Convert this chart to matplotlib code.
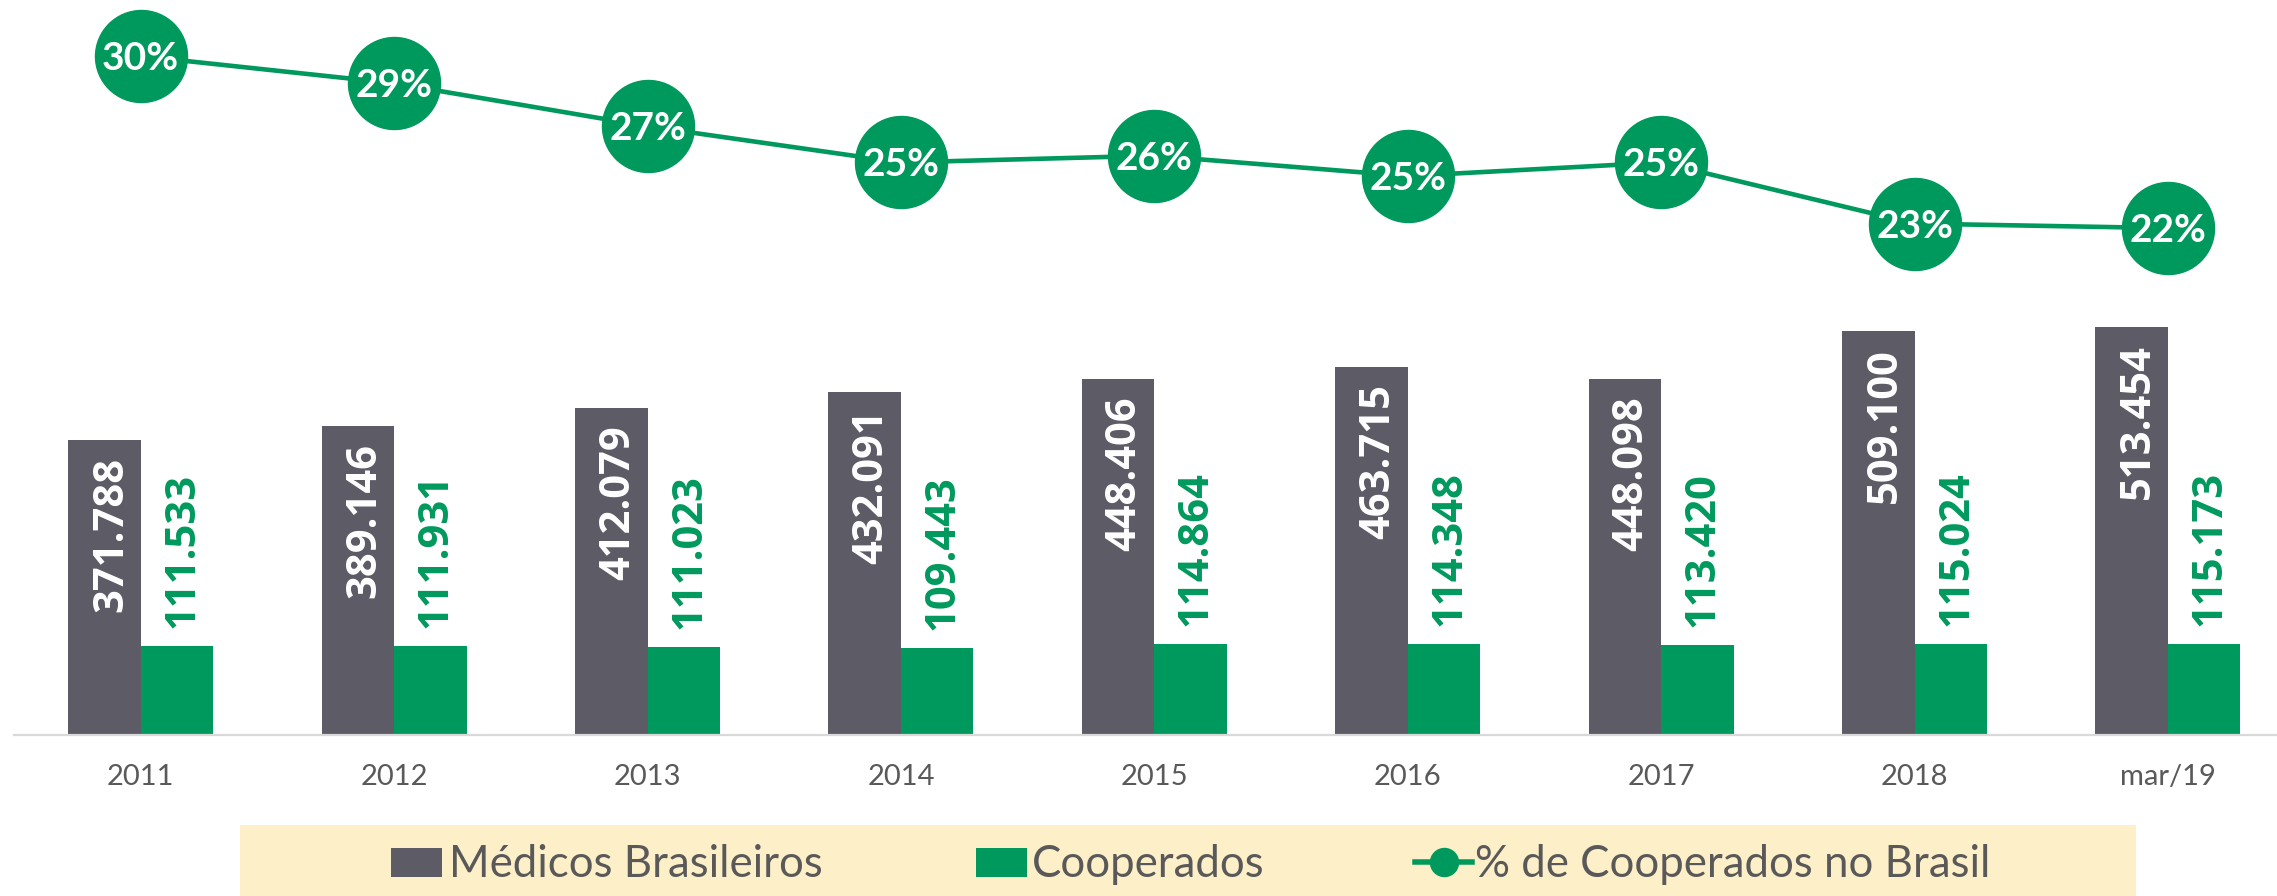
import matplotlib
matplotlib.use('Agg')
import matplotlib.pyplot as plt
import numpy as np
from matplotlib.patches import Rectangle
from matplotlib.lines import Line2D

# ---------------- data ----------------
categories = ['2011', '2012', '2013', '2014', '2015', '2016', '2017', '2018', 'mar/19']
medicos = [371788, 389146, 412079, 432091, 448406, 463715, 448098, 509100, 513454]
cooperados = [111533, 111931, 111023, 109443, 114864, 114348, 113420, 115024, 115173]
pct_cooperados = [0.300, 0.288, 0.269, 0.253, 0.256, 0.247, 0.253, 0.226, 0.224]
legend_labels = ['Médicos Brasileiros', 'Cooperados', '% de Cooperados no Brasil']

# ---------------- style ----------------
GRAY = '#5C5B66'
GREEN = '#00995D'
TEXT_GRAY = '#595959'
LEGEND_BG = '#FDEFC8'
AXIS_LINE = '#D9D9D9'

W, H, DPI = 2277, 896, 100
fig = plt.figure(figsize=(W / DPI, H / DPI), dpi=DPI)

def px2pt(v):
    return v * 72.0 / DPI

# axes geometry (pixels)
ax_left_px = 14
cat_step_px = 253.4
baseline_px = 735
ax = fig.add_axes([ax_left_px / W, (H - baseline_px) / H,
                   9 * cat_step_px / W, baseline_px / H])
ax2 = ax.twinx()

x = np.arange(len(categories))
bw = 0.286

ax.bar(x - bw / 2, medicos, width=bw, color=GRAY, zorder=2)
ax.bar(x + bw / 2, cooperados, width=bw, color=GREEN, zorder=2)

ax.set_xlim(-0.5, 8.5)
ax.set_ylim(0, baseline_px / 0.000794)
ax2.set_ylim(0, 0.3248)

def fmt(v):
    return f"{v:,}".replace(',', '.')

bar_font = dict(family='Open Sans', weight='bold', size=30)
for xi, v in zip(x, medicos):
    ax.annotate(fmt(v), xy=(xi - bw / 2, v), xytext=(px2pt(17.5), px2pt(-17)),
                textcoords='offset points', rotation=90, rotation_mode='anchor',
                ha='right', va='baseline', color='white', zorder=5, **bar_font)
for xi, v in zip(x, cooperados):
    ax.annotate(fmt(v), xy=(xi + bw / 2, v), xytext=(px2pt(16.3), px2pt(18)),
                textcoords='offset points', rotation=90, rotation_mode='anchor',
                ha='left', va='baseline', color=GREEN, zorder=5, **bar_font)

# percentage line
ax2.plot(x, pct_cooperados, color=GREEN, lw=px2pt(4.6), marker='o',
         ms=px2pt(92), mfc=GREEN, mec=GREEN, zorder=3, clip_on=False)
for xi, p in zip(x, pct_cooperados):
    ax2.annotate(f"{round(p * 100)}%", xy=(xi, p), xytext=(0, px2pt(-14)),
                 textcoords='offset points', ha='center', va='baseline',
                 color='white', family='Lato', weight='bold', size=28, zorder=6)

# axes cosmetics
for a in (ax, ax2):
    for s in ('top', 'right', 'left'):
        a.spines[s].set_visible(False)
    a.set_yticks([])
ax2.spines['bottom'].set_visible(False)
ax.spines['bottom'].set_color(AXIS_LINE)
ax.spines['bottom'].set_linewidth(1.6)
ax.set_xticks(x, categories)
ax.tick_params(axis='x', length=0, pad=px2pt(29), labelsize=21,
               labelcolor=TEXT_GRAY)
for lab in ax.get_xticklabels():
    lab.set_family('Lato')

# ---------------- legend (drawn at figure level) ----------------
def fx(px):
    return px / W

def fy(py):
    return 1 - py / H

tf = fig.transFigure
fig.add_artist(Rectangle((fx(240), fy(896)), fx(2136) - fx(240), fy(825) - fy(896),
                         transform=tf, facecolor=LEGEND_BG, edgecolor='none', zorder=0))
leg_base = 877
leg_font = dict(family='Lato', size=31.5, color=TEXT_GRAY)
# item 1
fig.add_artist(Rectangle((fx(391), fy(877)), fx(51), 29 / H, transform=tf,
                         facecolor=GRAY, edgecolor='none'))
fig.text(fx(449), fy(leg_base), legend_labels[0], ha='left', va='baseline', **leg_font)
# item 2
fig.add_artist(Rectangle((fx(976), fy(877)), fx(51), 29 / H, transform=tf,
                         facecolor=GREEN, edgecolor='none'))
fig.text(fx(1032), fy(leg_base), legend_labels[1], ha='left', va='baseline', **leg_font)
# item 3
fig.add_artist(Line2D([fx(1415), fx(1472)], [fy(862), fy(862)], transform=tf,
                      color=GREEN, lw=px2pt(5.5)))
fig.add_artist(Line2D([fx(1444)], [fy(862)], transform=tf, marker='o',
                      ms=px2pt(28), mfc=GREEN, mec=GREEN, lw=0))
fig.text(fx(1475), fy(leg_base), legend_labels[2], ha='left', va='baseline', **leg_font)

fig.savefig('out.png', dpi=DPI, facecolor='white')
